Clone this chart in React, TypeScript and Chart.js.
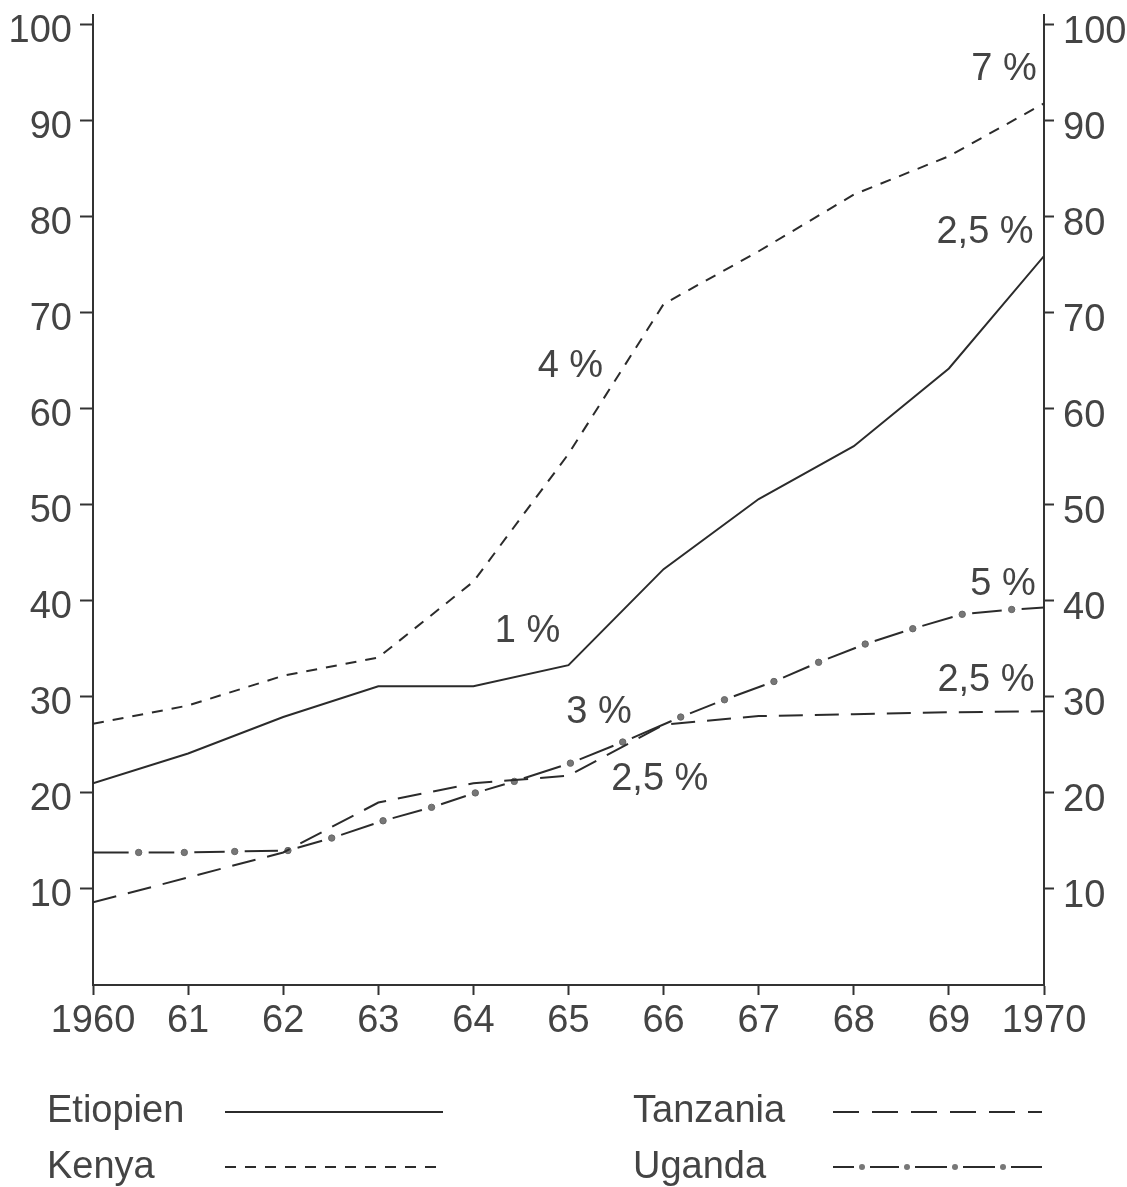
import React, { useEffect, useRef } from 'react';
import { Chart, registerables } from 'chart.js';

Chart.register(...registerables);

// ---- data ----
const years = [1960, 1961, 1962, 1963, 1964, 1965, 1966, 1967, 1968, 1969, 1970];
const xTickLabels = ['1960', '61', '62', '63', '64', '65', '66', '67', '68', '69', '1970'];
const yTickValues = [10, 20, 30, 40, 50, 60, 70, 80, 90, 100];

const etiopien = [21.0, 24.1, 27.9, 31.1, 31.1, 33.3, 43.3, 50.6, 56.1, 64.2, 75.9];
const kenya = [27.2, 29.1, 32.2, 34.1, 42.0, 55.3, 70.9, 76.4, 82.3, 86.3, 91.8];
const tanzania = [8.6, 11.2, 13.8, 19.0, 21.0, 21.8, 27.1, 28.0, 28.2, 28.4, 28.5];

const ugandaYears = [1960, 1960.48, 1960.96, 1961.49, 1962.05, 1962.51, 1963.05, 1963.56, 1964.02, 1964.43, 1965.02,
  1965.57, 1966.18, 1966.64, 1967.16, 1967.63, 1968.12, 1968.62, 1969.14, 1969.66, 1970];
const uganda = [13.8, 13.8, 13.8, 13.9, 14.0, 15.3, 17.1, 18.5, 20.0, 21.2, 23.1,
  25.3, 27.9, 29.7, 31.6, 33.6, 35.5, 37.1, 38.6, 39.1, 39.3];

const seriesNames = ['Etiopien', 'Kenya', 'Tanzania', 'Uganda'];

const annotations = [
  { text: '7 %', x: 1969.58, y: 95.3 },
  { text: '2,5 %', x: 1969.38, y: 78.3 },
  { text: '4 %', x: 1965.02, y: 64.4 },
  { text: '1 %', x: 1964.57, y: 36.8 },
  { text: '3 %', x: 1965.32, y: 28.4 },
  { text: '2,5 %', x: 1965.96, y: 21.4 },
  { text: '5 %', x: 1969.57, y: 41.7 },
  { text: '2,5 %', x: 1969.39, y: 31.7 },
];

// ---- styles ----
const FONT = '"Liberation Sans", Arial, Helvetica, sans-serif';
const LINE = '#2b2b2b';
const TEXT = '#444444';
const AXIS = '#333333';

const annotationPlugin = {
  id: 'annotationsAndLegend',
  afterDraw(chart: any) {
    const ctx = chart.ctx as CanvasRenderingContext2D;
    const xs = chart.scales.x;
    const ys = chart.scales.y;
    ctx.save();
    ctx.font = `38px ${FONT}`;
    ctx.fillStyle = TEXT;
    ctx.textAlign = 'center';
    ctx.textBaseline = 'middle';
    for (const a of annotations) {
      ctx.fillText(a.text, xs.getPixelForValue(a.x), ys.getPixelForValue(a.y));
    }

    // legend
    ctx.textAlign = 'left';
    ctx.textBaseline = 'alphabetic';
    const cols = [{ tx: 47, l0: 225, l1: 443 }, { tx: 633, l0: 833, l1: 1042 }];
    const rows = [{ base: 1122, ly: 1112 }, { base: 1178, ly: 1167 }];
    const layout = [
      { name: seriesNames[0], c: 0, r: 0 },
      { name: seriesNames[1], c: 0, r: 1 },
      { name: seriesNames[2], c: 1, r: 0 },
      { name: seriesNames[3], c: 1, r: 1 },
    ];
    layout.forEach((it, i) => {
      const c = cols[it.c];
      const r = rows[it.r];
      ctx.fillStyle = TEXT;
      ctx.fillText(it.name, c.tx, r.base);
      ctx.strokeStyle = LINE;
      ctx.lineWidth = 2;
      if (i === 3) {
        const dots = [862, 907, 955, 1003];
        const stops = [c.l0, ...dots, c.l1];
        ctx.setLineDash([]);
        for (let k = 0; k < stops.length - 1; k++) {
          const a = stops[k] + (k === 0 ? 0 : 8);
          const b = stops[k + 1] - (k + 1 === stops.length - 1 ? 0 : 8);
          ctx.beginPath();
          ctx.moveTo(a, r.ly);
          ctx.lineTo(b, r.ly);
          ctx.stroke();
        }
        ctx.fillStyle = '#777';
        for (const d of dots) {
          ctx.beginPath();
          ctx.arc(d, r.ly, 3, 0, Math.PI * 2);
          ctx.fill();
        }
      } else {
        ctx.setLineDash(i === 0 ? [] : i === 1 ? [11, 9] : [26, 13]);
        ctx.beginPath();
        ctx.moveTo(c.l0, r.ly);
        ctx.lineTo(c.l1, r.ly);
        ctx.stroke();
      }
    });
    ctx.restore();
  },
};

function ugandaSegDash(sc: any) {
  const p0 = sc.p0, p1 = sc.p1;
  const len = Math.hypot(p1.x - p0.x, p1.y - p0.y);
  const first = sc.p0DataIndex === 0;
  const last = sc.p1DataIndex === uganda.length - 1;
  const gapStart = first ? 0 : 10;
  const gapEnd = last ? 0 : 10;
  const d = Math.max(1, len - gapStart - gapEnd);
  return { dash: [d, 200], offset: gapStart === 0 ? 0 : d + 200 - gapStart };
}

export default function App() {
  const ref = useRef<HTMLCanvasElement | null>(null);

  useEffect(() => {
    document.body.style.margin = '0';
    document.body.style.overflow = 'hidden';
    const canvas = ref.current;
    if (!canvas) return;
    const toPts = (xv: number[], yv: number[]) => xv.map((x, i) => ({ x, y: yv[i] }));

    const chart = new Chart(canvas, {
      type: 'line',
      data: {
        datasets: [
          {
            label: seriesNames[0], data: toPts(years, etiopien), borderColor: LINE, borderWidth: 2,
            pointRadius: 0, tension: 0, fill: false,
          },
          {
            label: seriesNames[1], data: toPts(years, kenya), borderColor: LINE, borderWidth: 2,
            borderDash: [11, 9], pointRadius: 0, tension: 0, fill: false,
          },
          {
            label: seriesNames[2], data: toPts(years, tanzania), borderColor: LINE, borderWidth: 2,
            borderDash: [24, 12], pointRadius: 0, tension: 0, fill: false,
          },
          {
            label: seriesNames[3], data: toPts(ugandaYears, uganda), borderColor: LINE, borderWidth: 2,
            pointRadius: uganda.map((_, i) => (i === 0 || i === uganda.length - 1 ? 0 : 3.2)),
            pointBackgroundColor: '#777', pointBorderColor: '#666', pointBorderWidth: 1,
            tension: 0, fill: false,
            segment: {
              borderDash: (sc: any) => ugandaSegDash(sc).dash,
              borderDashOffset: (sc: any) => ugandaSegDash(sc).offset,
            },
          } as any,
        ],
      },
      options: {
        responsive: false,
        animation: false,
        devicePixelRatio: 1,
        layout: { padding: { top: 15, left: 0, right: 0, bottom: 0 } },
        plugins: { legend: { display: false }, tooltip: { enabled: false } },
        scales: {
          x: {
            type: 'linear', min: 1960, max: 1970,
            afterBuildTicks: (s: any) => { s.ticks = years.map((v) => ({ value: v })); },
            afterFit: (s: any) => { s.height = 202; s.paddingLeft = 0; s.paddingRight = 0; },
            grid: { display: true, drawOnChartArea: false, drawTicks: true, tickLength: 10, tickColor: AXIS, tickWidth: 2 },
            border: { display: true, color: AXIS, width: 2 },
            ticks: {
              autoSkip: false, maxRotation: 0, padding: 4, color: TEXT,
              font: { family: FONT, size: 38 },
              callback: (v: any) => xTickLabels[years.indexOf(Number(v))],
            },
          },
          y: {
            type: 'linear', position: 'left', min: 0, max: 101,
            afterBuildTicks: (s: any) => { s.ticks = yTickValues.map((v) => ({ value: v })); },
            afterFit: (s: any) => { s.width = 93; s.paddingTop = 0; s.paddingBottom = 0; },
            grid: { display: true, drawOnChartArea: false, drawTicks: true, tickLength: 13, tickColor: AXIS, tickWidth: 2 },
            border: { display: true, color: AXIS, width: 2 },
            ticks: { padding: 8, labelOffset: 7, color: TEXT, font: { family: FONT, size: 38 } },
          },
          y2: {
            type: 'linear', position: 'right', min: 0, max: 101,
            afterBuildTicks: (s: any) => { s.ticks = yTickValues.map((v) => ({ value: v })); },
            afterFit: (s: any) => { s.width = 83; s.paddingTop = 0; s.paddingBottom = 0; },
            grid: { display: true, drawOnChartArea: false, drawTicks: true, tickLength: 10, tickColor: AXIS, tickWidth: 2 },
            border: { display: true, color: AXIS, width: 2 },
            ticks: { padding: 9, labelOffset: 8, color: TEXT, font: { family: FONT, size: 38 } },
          },
        },
      } as any,
      plugins: [annotationPlugin],
    });
    return () => chart.destroy();
  }, []);

  return (
    <div style={{ width: 1127, height: 1187 }}>
      <canvas ref={ref} width={1127} height={1187} style={{ display: 'block' }} />
    </div>
  );
}
